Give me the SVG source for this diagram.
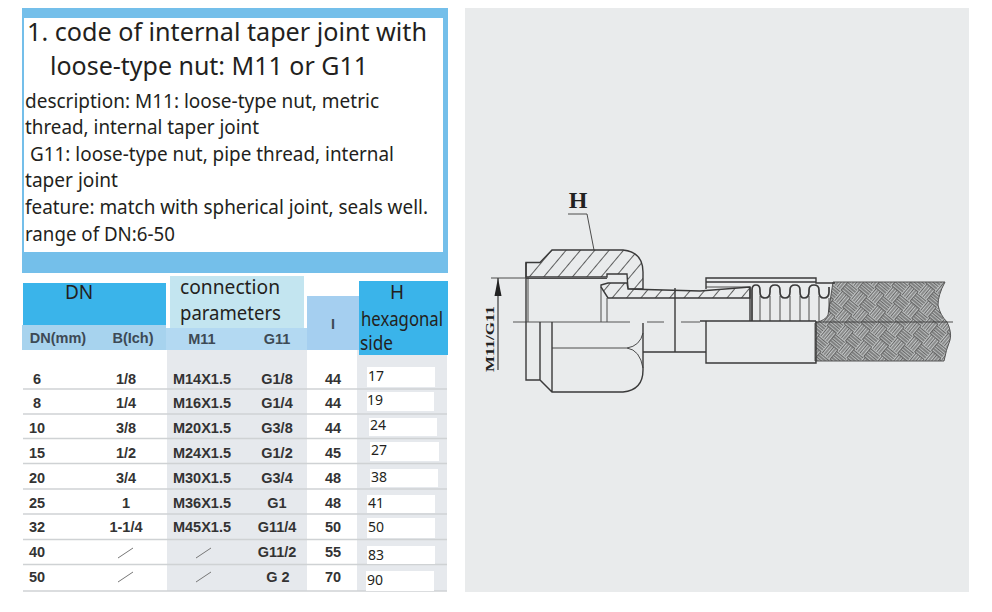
<svg xmlns="http://www.w3.org/2000/svg" width="992" height="612" viewBox="0 0 992 612">
<style>
.t{font-family:"Noto Sans","Open Sans","Liberation Sans",sans-serif;fill:#231f20}
.title{font-size:26px}.body{font-size:19px}
.c{font-family:"Liberation Sans",Arial,sans-serif;font-weight:bold;font-size:14.500px;fill:#333;text-anchor:middle}
.h{fill:#3d4a55}
.v{font-family:"Noto Sans","Open Sans",sans-serif;font-size:14px;fill:#231f20}
.rl{stroke:#cfd2d4;stroke-width:1.5}
.sl{stroke:#777;stroke-width:1}
.d{fill:none;stroke:#3a3a3a;stroke-width:1.4}
.dt{fill:none;stroke:#3a3a3a;stroke-width:.9}
.cl{fill:none;stroke:#555;stroke-width:1;stroke-dasharray:117 17 17 17 20 10}
.lab{font-family:"Liberation Serif",serif;font-weight:bold;fill:#222}
</style>
<defs>
<pattern id="hatch" width="11" height="11" patternUnits="userSpaceOnUse" patternTransform="rotate(-50)">
<rect width="11" height="11" fill="#e9ebec"/><line x1="0" y1="0" x2="11" y2="0" stroke="#444" stroke-width="1.700"/>
</pattern>
<pattern id="braid" width="24" height="24" patternUnits="userSpaceOnUse" patternTransform="translate(832 283) rotate(40)">
<rect width="24" height="24" fill="#d3d6d7"/>
<g stroke="#666" stroke-width="1.300" fill="none">
<path d="M0 1.500H12M0 4H12M0 6.500H12M0 9H12M0 11.500H12"/>
<path d="M12 13.500H24M12 16H24M12 18.500H24M12 21H24M12 23.500H24"/>
<path d="M13.500 0V12M16 0V12M18.500 0V12M21 0V12M23.500 0V12"/>
<path d="M1.500 12V24M4 12V24M6.500 12V24M9 12V24M11.500 12V24"/>
</g>
</pattern>
<marker id="ah" markerUnits="userSpaceOnUse" markerWidth="18" markerHeight="8" refX="18" refY="4" orient="auto" viewBox="0 0 18 8"><path d="M18 4L0 .5V7.500Z" fill="#222"/></marker>
</defs>
<rect width="992" height="612" fill="#fff"/>

<g id="description">
<rect x="22" y="8" width="426" height="265" fill="#74bfea"/>
<rect x="24" y="18" width="419" height="234" fill="#fff"/>
<text class="t title" x="27" y="41" textLength="400" lengthAdjust="spacingAndGlyphs">1. code of internal taper joint with</text>
<text class="t title" x="50" y="75" textLength="318" lengthAdjust="spacingAndGlyphs">loose-type nut: M11 or G11</text>
<text class="t body" x="25" y="108" textLength="354" lengthAdjust="spacingAndGlyphs">description: M11: loose-type nut, metric</text>
<text class="t body" x="25" y="134" textLength="234" lengthAdjust="spacingAndGlyphs">thread, internal taper joint</text>
<text class="t body" x="30" y="161" textLength="364" lengthAdjust="spacingAndGlyphs">G11: loose-type nut, pipe thread, internal</text>
<text class="t body" x="25" y="187" textLength="93" lengthAdjust="spacingAndGlyphs">taper joint</text>
<text class="t body" x="25" y="214" textLength="403" lengthAdjust="spacingAndGlyphs">feature: match with spherical joint, seals well.</text>
<text class="t body" x="25" y="241" textLength="150" lengthAdjust="spacingAndGlyphs">range of DN:6-50</text>
</g>

<g id="table">
<rect x="167" y="350" width="140" height="241" fill="#e6e9ed"/>
<rect x="357" y="350" width="90" height="241" fill="#e6e9ed"/>
<rect x="22" y="325" width="144" height="25" fill="#a7d3ee"/>
<rect x="166" y="328" width="141" height="22" fill="#b3d9f2"/>
<rect x="307" y="296" width="52" height="54" fill="#a5cff0"/>
<rect x="23" y="283" width="143" height="42" fill="#3ab4ea"/>
<rect x="170" y="276" width="134" height="52" fill="#c3e5f0"/>
<rect x="359" y="281" width="89" height="74" fill="#3ab4ea"/>
<text class="t" x="65" y="299" font-size="19">DN</text>
<text class="t" x="180" y="294" font-size="19" textLength="100" lengthAdjust="spacingAndGlyphs">connection</text>
<text class="t" x="180" y="320" font-size="19" textLength="101" lengthAdjust="spacingAndGlyphs">parameters</text>
<text class="t" x="390" y="299" font-size="19">H</text>
<text class="t" x="361" y="326" font-size="19" textLength="82" lengthAdjust="spacingAndGlyphs">hexagonal</text>
<text class="t" x="360" y="350" font-size="19" textLength="33" lengthAdjust="spacingAndGlyphs">side</text>
<text class="c h" style="fill:#3d4a55" x="58" y="343">DN(mm)</text>
<text class="c h" style="fill:#3d4a55" x="133" y="343">B(Ich)</text>
<text class="c h" style="fill:#3d4a55" x="202" y="344">M11</text>
<text class="c h" style="fill:#3d4a55" x="277" y="344">G11</text>
<text class="c h" style="fill:#3d4a55" x="333" y="329">I</text>
<g>
<line class="rl" x1="23" y1="389" x2="447" y2="389"/><line class="rl" x1="23" y1="414" x2="447" y2="414"/>
<line class="rl" x1="23" y1="438.500" x2="447" y2="438.500"/><line class="rl" x1="23" y1="463.500" x2="447" y2="463.500"/>
<line class="rl" x1="23" y1="489" x2="447" y2="489"/><line class="rl" x1="23" y1="514" x2="447" y2="514"/>
<line class="rl" x1="23" y1="539.500" x2="447" y2="539.500"/><line class="rl" x1="23" y1="564.500" x2="447" y2="564.500"/>
<line class="rl" x1="23" y1="591" x2="447" y2="591"/>
</g>
<g fill="#fff">
<rect x="367" y="367" width="68" height="20"/><rect x="367" y="392" width="67" height="19"/>
<rect x="369" y="418" width="68" height="18"/><rect x="370" y="442" width="69" height="19"/>
<rect x="370" y="469" width="68" height="18"/><rect x="367" y="495" width="68" height="18"/>
<rect x="367" y="518" width="68" height="20"/><rect x="367" y="546" width="68" height="18"/>
<rect x="366" y="571" width="68" height="20"/>
</g>
<g id="row6"><text class="c" x="37" y="384">6</text><text class="c" x="126" y="384">1/8</text><text class="c" x="202" y="384">M14X1.5</text><text class="c" x="277" y="384">G1/8</text><text class="c" x="333" y="384">44</text><text class="v" x="368" y="381">17</text></g>
<g id="row8"><text class="c" x="37" y="408">8</text><text class="c" x="126" y="408">1/4</text><text class="c" x="202" y="408">M16X1.5</text><text class="c" x="277" y="408">G1/4</text><text class="c" x="333" y="408">44</text><text class="v" x="367" y="405">19</text></g>
<g id="row10"><text class="c" x="37" y="433">10</text><text class="c" x="126" y="433">3/8</text><text class="c" x="202" y="433">M20X1.5</text><text class="c" x="277" y="433">G3/8</text><text class="c" x="333" y="433">44</text><text class="v" x="370" y="430">24</text></g>
<g id="row15"><text class="c" x="37" y="458">15</text><text class="c" x="126" y="458">1/2</text><text class="c" x="202" y="458">M24X1.5</text><text class="c" x="277" y="458">G1/2</text><text class="c" x="333" y="458">45</text><text class="v" x="371" y="455">27</text></g>
<g id="row20"><text class="c" x="37" y="483">20</text><text class="c" x="126" y="483">3/4</text><text class="c" x="202" y="483">M30X1.5</text><text class="c" x="277" y="483">G3/4</text><text class="c" x="333" y="483">48</text><text class="v" x="371" y="482">38</text></g>
<g id="row25"><text class="c" x="37" y="508">25</text><text class="c" x="126" y="508">1</text><text class="c" x="202" y="508">M36X1.5</text><text class="c" x="277" y="508">G1</text><text class="c" x="333" y="508">48</text><text class="v" x="368" y="508">41</text></g>
<g id="row32"><text class="c" x="37" y="532">32</text><text class="c" x="126" y="532">1-1/4</text><text class="c" x="202" y="532">M45X1.5</text><text class="c" x="277" y="532">G11/4</text><text class="c" x="333" y="532">50</text><text class="v" x="368" y="532">50</text></g>
<g id="row40"><text class="c" x="37" y="557">40</text><line class="sl" x1="118" y1="558" x2="133" y2="548"/><line class="sl" x1="196" y1="558" x2="211" y2="548"/><text class="c" x="277" y="557">G11/2</text><text class="c" x="333" y="557">55</text><text class="v" x="368" y="560">83</text></g>
<g id="row50"><text class="c" x="37" y="582">50</text><line class="sl" x1="118" y1="582" x2="133" y2="572"/><line class="sl" x1="196" y1="582" x2="211" y2="572"/><text class="c" x="278" y="582">G 2</text><text class="c" x="333" y="582">70</text><text class="v" x="367" y="585">90</text></g>
</g>

<rect id="drawing-panel" x="465" y="8" width="504" height="584" fill="#e9ebec"/>
<g id="fitting">
<path d="M833 282H945Q938 295 938 305Q940 315 947 322Q952 332 950 340Q946 350 944 361H815V323Q826 320 828 315Z" fill="url(#braid)" stroke="#555" stroke-width="1"/>
<path class="dt" d="M816 322H953"/>
<path class="d" style="fill:url(#hatch)" d="M526 262.500H540L552 250H623Q643 252 643 272V289H628L627 274H607V277H526Z"/>
<path class="d" style="fill:url(#hatch)" d="M601 285L608 283H627L628 289L700 291L750 287V298H608L601 287Z"/>
<path class="dt" d="M528 277V322M601 287V322M607 298V322M526 278.500H607"/>
<path class="cl" d="M513 322H700"/>
<path class="d" d="M526 262.500V380H540L552 392H623Q643 390 643 370V323M540 322V380M552 322V392"/>
<path class="dt" d="M552 348H627Q640 346 643 333M627 348Q640 350 643 368"/>
<path class="d" d="M643 352H706M675 288V352"/>
<path class="d" d="M706 289V278H816V283H835M706 282H816"/>
<path class="dt" d="M706 287H750"/>
<path class="d" d="M750 287V321M700 321H816M706 321V363H816V321"/>
<path class="d" style="stroke-width:1.700" d="M752 321V290Q752 285 756 285Q760 285 760 290V292Q760 298 765 298Q770 298 770 292V290Q770 285 775 285Q780 285 780 290V292Q780 298 785 298Q790 298 790 292V290Q790 285 795 285Q800 285 800 290V292Q800 298 804 298Q809 298 809 292V290Q809 285 814 285Q819 285 819 290V292Q819 298 824 298Q829 298 829 292V287"/>
<path class="dt" d="M760 296V321M770 296V321M780 296V321M790 296V321M800 296V321M809 296V321M819 296V321M829 298V312"/>
<path class="dt" d="M491 278H526"/>
<path class="dt" style="stroke-width:1.200" d="M498 370V278" marker-end="url(#ah)"/>
<path class="dt" d="M568 214H587L594 250"/>
</g>
<text class="lab" x="578" y="208" font-size="24" text-anchor="middle">H</text>
<text class="lab" font-size="13.500" text-anchor="middle" transform="translate(494 339) rotate(-90)" textLength="66" lengthAdjust="spacingAndGlyphs">M11/G11</text>
</svg>
